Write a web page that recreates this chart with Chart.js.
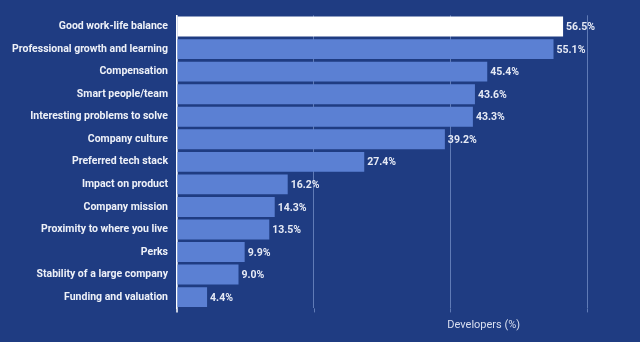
<!DOCTYPE html>
<html>
<head>
<meta charset="utf-8">
<script src="https://cdn.jsdelivr.net/npm/chart.js@4/dist/chart.umd.min.js"></script>
<style>
  html, body { margin: 0; padding: 0; background: #1f3c82; }
  #wrap { width: 640px; height: 342px; position: relative; }
</style>
</head>
<body>
<div id="wrap"><canvas id="c" width="640" height="342"></canvas></div>
<script>
const categories = [
  "Good work-life balance",
  "Professional growth and learning",
  "Compensation",
  "Smart people/team",
  "Interesting problems to solve",
  "Company culture",
  "Preferred tech stack",
  "Impact on product",
  "Company mission",
  "Proximity to where you live",
  "Perks",
  "Stability of a large company",
  "Funding and valuation"
];
const values = [56.5, 55.1, 45.4, 43.6, 43.3, 39.2, 27.4, 16.2, 14.3, 13.5, 9.9, 9.0, 4.4];
const axisTitle = "Developers (%)";
const xTicks = [0, 20, 40, 60];

const barColors = values.map((v, i) => i === 0 ? "#ffffff" : "#5b80d3");
const FONT = "Roboto, 'Liberation Sans', Arial, sans-serif";
const GRID = "rgba(150,175,225,0.55)";

const valueLabels = {
  id: "valueLabels",
  afterDatasetsDraw(chart) {
    const ctx = chart.ctx;
    const meta = chart.getDatasetMeta(0);
    ctx.save();
    ctx.font = "bold 10.5px " + FONT;
    ctx.fillStyle = "#e6eaf5";
    ctx.textBaseline = "middle";
    ctx.textAlign = "left";
    meta.data.forEach((bar, i) => {
      ctx.fillText(values[i].toFixed(1) + "%", bar.x + 3, bar.y + 1);
    });
    ctx.restore();
  }
};

const extras = {
  id: "extras",
  afterDraw(chart) {
    const ctx = chart.ctx;
    const xs = chart.scales.x;
    const a = chart.chartArea;
    ctx.save();
    // extend grid lines and axis line slightly below the plot area
    xs.ticks.forEach(t => {
      const x = Math.round(xs.getPixelForValue(t.value)) + 0.5;
      ctx.strokeStyle = t.value === 0 ? "#ffffff" : GRID;
      ctx.lineWidth = t.value === 0 ? 1.5 : 1;
      ctx.beginPath();
      ctx.moveTo(t.value === 0 ? a.left : x, a.bottom);
      ctx.lineTo(t.value === 0 ? a.left : x, a.bottom + 4);
      ctx.stroke();
    });
    ctx.font = "11px " + FONT;
    ctx.fillStyle = "#d9dff0";
    ctx.textBaseline = "middle";
    ctx.textAlign = "left";
    ctx.fillText(axisTitle, xs.getPixelForValue(40) - 3, 325);
    ctx.restore();
  }
};

new Chart(document.getElementById("c"), {
  type: "bar",
  data: {
    labels: categories,
    datasets: [{
      data: values,
      backgroundColor: barColors,
      borderWidth: 0,
      barPercentage: 0.92,
      categoryPercentage: 0.96
    }]
  },
  options: {
    indexAxis: "y",
    responsive: false,
    animation: false,
    layout: { padding: { top: 12.6, right: 53, left: 0, bottom: 0 } },
    plugins: { legend: { display: false }, tooltip: { enabled: false } },
    scales: {
      x: {
        min: 0, max: 60,
        afterBuildTicks(scale) { scale.ticks = xTicks.map(v => ({ value: v })); },
        afterFit(scale) { scale.height = 33.6; },
        ticks: { display: false },
        grid: { color: GRID, lineWidth: 1, drawTicks: false },
        border: { display: false }
      },
      y: {
        afterFit(scale) { scale.width = 177; },
        ticks: {
          color: "#eef1f8",
          font: { family: FONT, size: 10.5, weight: "bold" },
          padding: 9
        },
        grid: { display: false, drawTicks: false },
        border: { display: true, color: "#ffffff", width: 1.5 }
      }
    }
  },
  plugins: [valueLabels, extras]
});
</script>
</body>
</html>
